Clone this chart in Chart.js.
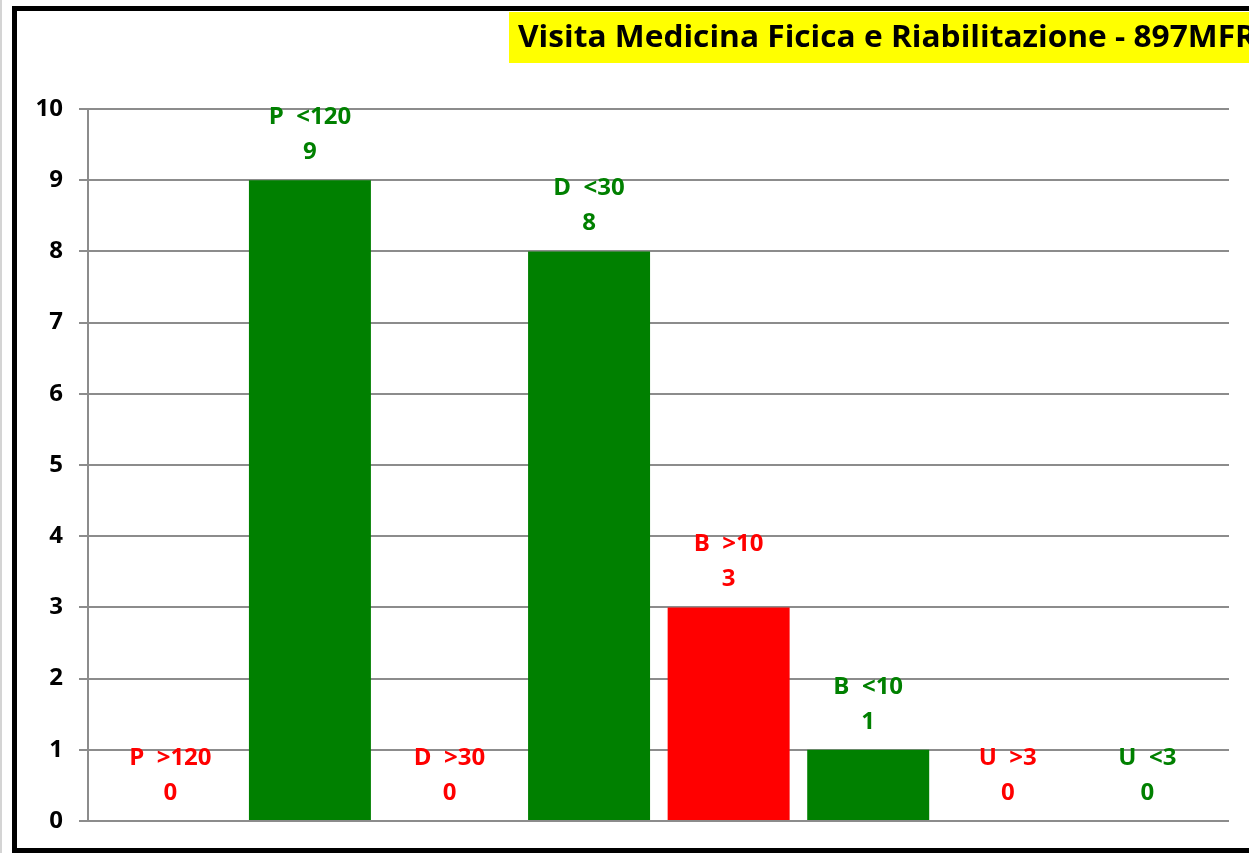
<!DOCTYPE html>
<html>
<head>
<meta charset="utf-8">
<script src="https://cdn.jsdelivr.net/npm/chart.js@4/dist/chart.umd.min.js"></script>
<style>
  html, body { margin: 0; padding: 0; background: #ffffff; }
  canvas { display: block; }
</style>
</head>
<body>
<canvas id="c" width="1249" height="853"></canvas>
<script>
// Waiting-time classes (priority P/D/B/U, over or within the limit in days)
const categories = ["P  >120", "P  <120", "D  >30", "D  <30", "B  >10", "B  <10", "U  >3", "U  <3"];
const values = [0, 9, 0, 8, 3, 1, 0, 0];
const overLimit = [true, false, true, false, true, false, true, false];
const yTicks = [0, 1, 2, 3, 4, 5, 6, 7, 8, 9, 10];
const titleText = "Visita Medicina Ficica e Riabilitazione - 897MFR";

const GREEN = "#008000";
const RED = "#ff0000";
const colors = overLimit.map(o => (o ? RED : GREEN));

const FONT = '"Open Sans", "Liberation Sans", sans-serif';

// Frame, title banner and the two-line labels above each bar
const decorations = {
  id: "decorations",
  beforeDraw(chart) {
    const ctx = chart.ctx;
    ctx.save();
    ctx.fillStyle = "#ffffff";
    ctx.fillRect(0, 0, chart.width, chart.height);
    // light sheet line on the far left
    ctx.fillStyle = "#d4d4d4";
    ctx.fillRect(0, 0, 2, chart.height);
    ctx.restore();
  },
  afterDraw(chart) {
    const ctx = chart.ctx;
    ctx.save();
    // black frame
    ctx.fillStyle = "#000000";
    ctx.fillRect(12, 6, chart.width - 12, 5);
    ctx.fillRect(12, 6, 5, chart.height - 6);
    ctx.fillRect(12, 848, chart.width - 12, 5);

    // yellow title banner
    ctx.fillStyle = "#ffff00";
    ctx.fillRect(509, 12, chart.width - 509, 51);
    ctx.fillStyle = "#000000";
    ctx.font = "bold 30px " + FONT;
    ctx.textBaseline = "alphabetic";
    ctx.textAlign = "left";
    const w = ctx.measureText(titleText).width;
    const sx = 738 / w;
    ctx.translate(518, 47);
    ctx.scale(sx, 1);
    ctx.fillText(titleText, 0, 0);
    ctx.restore();
  },
  afterDatasetsDraw(chart) {
    const ctx = chart.ctx;
    const meta = chart.getDatasetMeta(0);
    ctx.save();
    ctx.font = "bold 24px " + FONT;
    ctx.textAlign = "center";
    ctx.textBaseline = "middle";
    meta.data.forEach((bar, i) => {
      ctx.fillStyle = colors[i];
      ctx.fillText(categories[i], bar.x, bar.y - 63);
      ctx.fillText(String(values[i]), bar.x, bar.y - 28);
    });
    ctx.restore();
  }
};

new Chart(document.getElementById("c"), {
  type: "bar",
  data: {
    datasets: [{
      data: values.map((v, i) => ({ x: i, y: v })),
      backgroundColor: colors,
      borderWidth: 0,
      categoryPercentage: 1.0,
      barPercentage: 0.874
    }]
  },
  options: {
    responsive: false,
    devicePixelRatio: 1,
    animation: false,
    layout: { padding: { left: 16, right: 20, top: 109, bottom: 32 } },
    plugins: {
      legend: { display: false },
      title: { display: false },
      tooltip: { enabled: false }
    },
    scales: {
      x: {
        type: "linear",
        display: false,
        offset: false,
        min: -0.59,
        max: categories.length - 1 + 0.585,
        afterBuildTicks(scale) { scale.ticks = categories.map((c, i) => ({ value: i })); }
      },
      y: {
        min: yTicks[0],
        max: yTicks[yTicks.length - 1],
        afterFit(scale) { scale.width = 72; },
        afterBuildTicks(scale) { scale.ticks = yTicks.map(v => ({ value: v })); },
        ticks: {
          color: "#000000",
          font: { family: FONT, size: 24, weight: "bold" },
          padding: 16
        },
        grid: {
          color: "#8c8c8c",
          lineWidth: 2,
          tickLength: 9,
          drawTicks: true
        },
        border: { display: true, color: "#8c8c8c", width: 2 }
      }
    }
  },
  plugins: [decorations]
});
</script>
</body>
</html>
